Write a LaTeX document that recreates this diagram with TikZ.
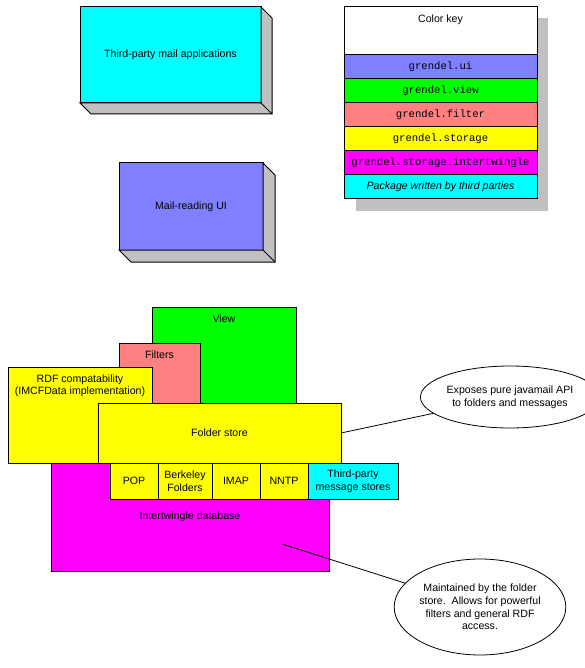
\documentclass[tikz,border=0pt]{standalone}
\usepackage{fontspec}
\setmainfont{Liberation Sans}
\setmonofont{Liberation Mono}
\usetikzlibrary{positioning,calc,shapes.geometric}
\definecolor{pkgcyan}{HTML}{00FFFF}
\definecolor{pkgblue}{HTML}{8080FF}
\definecolor{pkggreen}{HTML}{00FF00}
\definecolor{pkgsalmon}{HTML}{FF8080}
\definecolor{pkgyellow}{HTML}{FFFF00}
\definecolor{pkgmagenta}{HTML}{FF00FF}
\definecolor{shadowgray}{HTML}{C0C0C0}
\tikzset{
    every picture/.style={line join=miter},
    pkgbox/.style={draw=black,line width=1pt,inner sep=1pt,outer sep=0pt,
      anchor=north west,align=center},
    blockbox/.style={pkgbox,minimum width=#1},
    keyrow/.style={draw=black,line width=1pt,inner sep=0pt,outer sep=0pt,
      minimum width=193pt,minimum height=24pt,align=center},
    shadowfill/.style={draw=black,fill=shadowgray,line width=1pt},
    notebubble/.style={ellipse,draw=black,fill=white,line width=0.8pt,
      inner sep=0pt,align=center},
    noteline/.style={draw=black,line width=0.8pt},
    toplabel/.style={anchor=north,yshift=-4pt,align=center}
}

\begin{document}
\begin{tikzpicture}[x=1pt,y=-1pt,font=\fontsize{10.6}{12.6}\selectfont]
    \useasboundingbox (0,0) rectangle (584,668);
    % raised boxes
    \node[pkgbox,fill=pkgcyan,minimum width=181pt,minimum height=96pt] (mailapps) at (80,7) {Third-party mail applications};
    \draw[shadowfill] (mailapps.north east) -- ++(11,11) -- ($(mailapps.south east)+(11,11)$)
      -- ($(mailapps.south west)+(11,11)$) -- (mailapps.south west) -- (mailapps.south east) -- cycle;
    \draw[line width=1pt] (mailapps.south east) -- ++(11,11);
    \node[pkgbox,fill=pkgblue,minimum width=144pt,minimum height=87pt] (mailui) at (119,163) {Mail-reading UI};
    \draw[shadowfill] (mailui.north east) -- ++(12,12) -- ($(mailui.south east)+(12,12)$)
      -- ($(mailui.south west)+(12,12)$) -- (mailui.south west) -- (mailui.south east) -- cycle;
    \draw[line width=1pt] (mailui.south east) -- ++(12,12);
    % color key
    \fill[shadowgray] (356,18) rectangle (548,211);
    \node[keyrow,fill=white,minimum height=48pt,anchor=north west,
      label={[toplabel]north:Color key}] (keytitle) at (344,7) {};
    \node[keyrow,fill=pkgblue,below=0pt of keytitle] (keyui) {\ttfamily grendel.ui};
    \node[keyrow,fill=pkggreen,below=0pt of keyui] (keyview) {\ttfamily grendel.view};
    \node[keyrow,fill=pkgsalmon,below=0pt of keyview] (keyfilter) {\ttfamily grendel.filter};
    \node[keyrow,fill=pkgyellow,below=0pt of keyfilter] (keystorage) {\ttfamily grendel.storage};
    \node[keyrow,fill=pkgmagenta,below=0pt of keystorage] (keyintertw) {\ttfamily grendel.storage.intertwingle};
    \node[keyrow,fill=pkgcyan,below=0pt of keyintertw] (keythird) {\itshape Package written by third parties};
    % layered stack
    \node[blockbox=144pt,fill=pkggreen,minimum height=96pt,
      label={[toplabel]north:View}] (view) at (152,307) {};
    \node[blockbox=81pt,fill=pkgsalmon,minimum height=60pt,
      label={[toplabel]north:Filters}] (filters) at (119,343) {};
    \node[blockbox=144pt,fill=pkgyellow,minimum height=96pt,
      label={[toplabel]north:RDF compatability\\(IMCFData implementation)}] (rdf) at (8,367) {};
    \node[blockbox=243pt,fill=pkgyellow,minimum height=60pt] (folder) at (98,403) {Folder store};
    \node[blockbox=278pt,fill=pkgmagenta,minimum height=108pt] (intertw) at (51,463) {Intertwingle database};
    \node[blockbox=48pt,fill=pkgyellow,minimum height=36pt] (pop) at (110,463) {POP};
    \node[blockbox=54pt,fill=pkgyellow,minimum height=36pt,right=0pt of pop] (berkeley) {Berkeley\\Folders};
    \node[blockbox=48pt,fill=pkgyellow,minimum height=36pt,right=0pt of berkeley] (imap) {IMAP};
    \node[blockbox=48pt,fill=pkgyellow,minimum height=36pt,right=0pt of imap] (nntp) {NNTP};
    \node[blockbox=90pt,fill=pkgcyan,minimum height=36pt,right=0pt of nntp] (otherstores) {Third-party\\message stores};
    % notes
    \node[notebubble,minimum width=144pt,minimum height=62pt] (apinote) at (510,397) {Exposes pure javamail API\\to folders and messages};
    \node[notebubble,minimum width=144pt,minimum height=96pt] (dbnote) at (480,607) {Maintained by the folder\\store.\ \ Allows for powerful\\filters and general RDF\\access.};
    \coordinate (dbpoint) at (282,544);
    \draw[noteline] (folder.east) -- (apinote);
    \draw[noteline] (dbpoint) -- (dbnote);
\end{tikzpicture}
\end{document}
